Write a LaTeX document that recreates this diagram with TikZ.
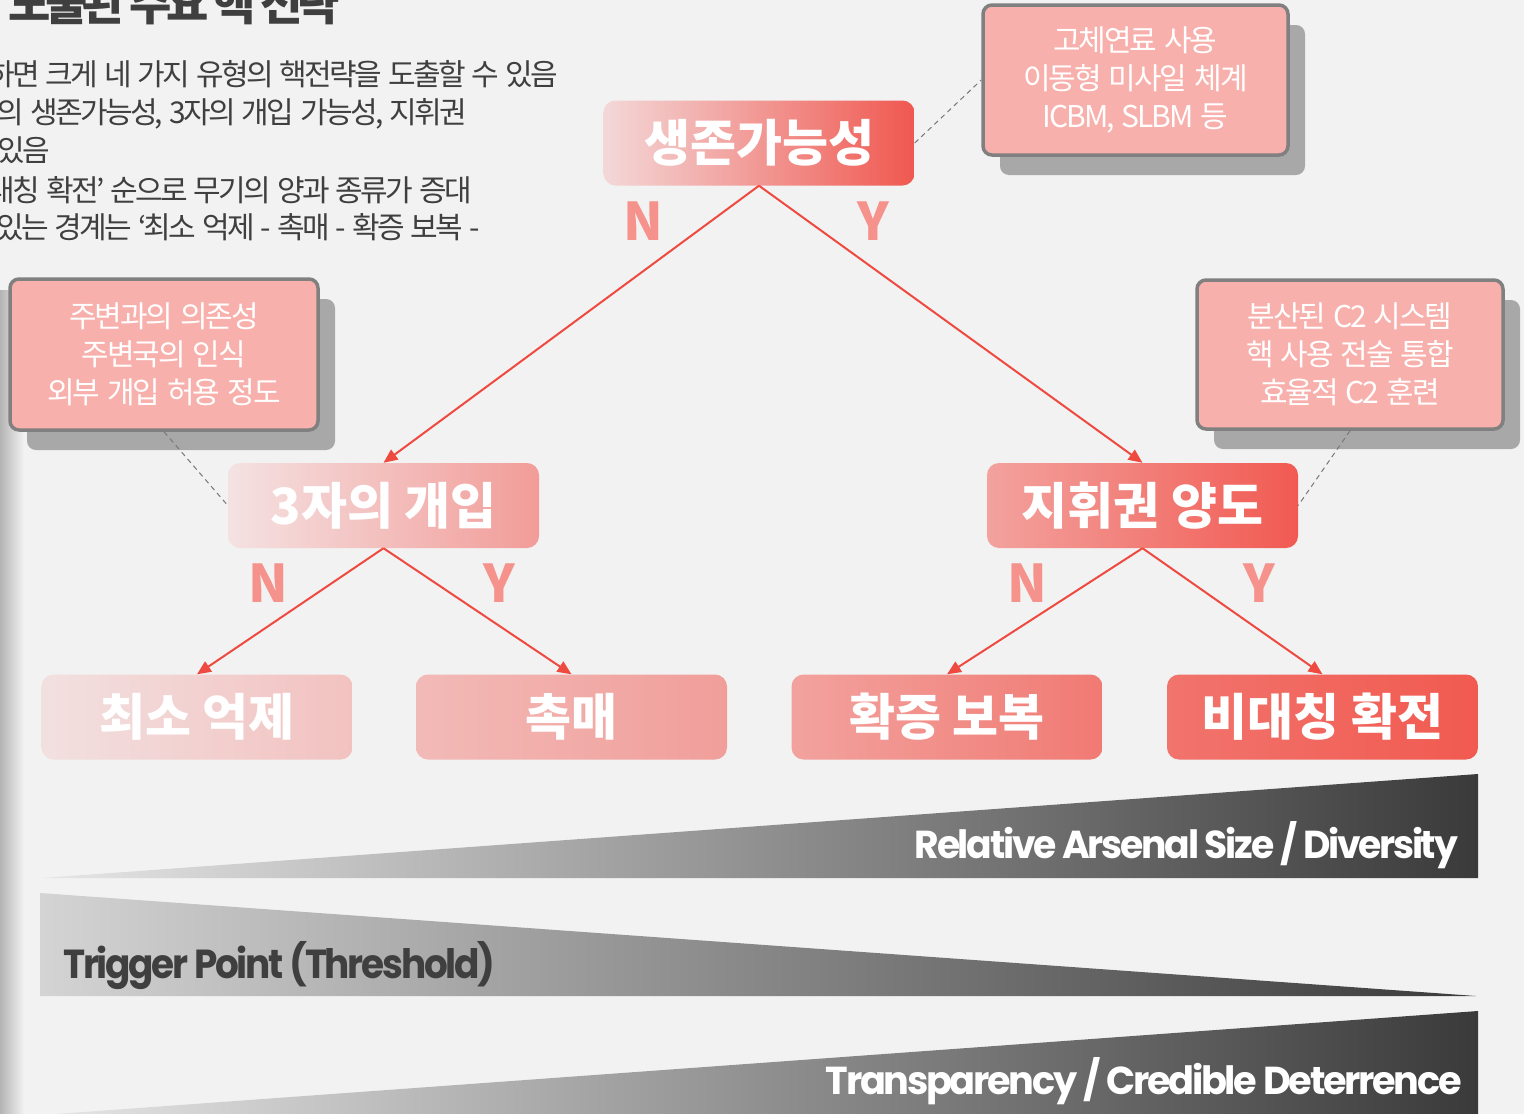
\documentclass[tikz,border=0pt]{standalone}
\usepackage{fontspec}
\usepackage{graphicx}
\usetikzlibrary{arrows.meta,shadows}
\setmainfont{Noto Sans CJK KR}
\newfontfamily\bodyfont[LetterSpace=-9,WordSpace=1.5]{Noto Sans CJK KR}
\newfontfamily\boxfont[LetterSpace=-7,WordSpace=1.5]{Noto Sans CJK KR}
\newfontfamily\titlefont[LetterSpace=-12]{Noto Sans CJK KR}
\newfontfamily\nodefont{Noto Sans CJK KR}
\newfontfamily\enfont[LetterSpace=-6]{Poppins}
\definecolor{bg}{HTML}{F2F2F2}
\definecolor{txt}{HTML}{3F3F3F}
\definecolor{redline}{HTML}{EF4A40}
\definecolor{nycol}{HTML}{F5928C}
\definecolor{infofill}{HTML}{F8B0AC}
\definecolor{infoborder}{HTML}{808080}
\definecolor{shadowgray}{HTML}{A8A8A8}
\definecolor{dashgray}{HTML}{777777}
\definecolor{wedgeL}{HTML}{E6E6E6}
\definecolor{wedgeLb}{HTML}{D4D4D4}
\definecolor{wedgeR}{HTML}{3A3A3A}
\definecolor{stripgray}{HTML}{B4B4B4}
\definecolor{sL}{HTML}{F3D8D8}\definecolor{sR}{HTML}{F05850}
\definecolor{tL}{HTML}{F4E2E2}\definecolor{tR}{HTML}{F29C98}
\definecolor{cL}{HTML}{F3A29E}\definecolor{cR}{HTML}{F15A52}
\definecolor{aL}{HTML}{F2E0E0}\definecolor{aR}{HTML}{F2C2C0}
\definecolor{bL}{HTML}{F2BAB7}\definecolor{bR}{HTML}{F19E9A}
\definecolor{dL}{HTML}{F2A29E}\definecolor{dR}{HTML}{F17A73}
\definecolor{eL}{HTML}{F1746D}\definecolor{eR}{HTML}{F15A50}
\begin{document}
\begin{tikzpicture}[x=1pt,y=-1pt,
  mainbox/.style={shading=axis, rounded corners=12pt, minimum width=311pt, minimum height=85pt, inner sep=0pt, text=white, font=\nodefont\bfseries\fontsize{50}{50}\selectfont},
  infobox/.style={fill=infofill, draw=infoborder, line width=3.5pt, rounded corners=9pt, minimum width=305pt, minimum height=150pt, inner sep=0pt, align=center, text=white, font=\boxfont\fontsize{30}{38}\selectfont, drop shadow={shadow xshift=17pt, shadow yshift=-20pt, fill=shadowgray, opacity=1}},
  arr/.style={draw=redline, line width=2pt, -{Triangle[length=14pt,width=12pt]}},
  ny/.style={text=nycol, font=\nodefont\bfseries\fontsize{52}{52}\selectfont, inner sep=0pt},
  dashln/.style={draw=dashgray, line width=1pt, dash pattern=on 5pt off 4pt},
  bodyline/.style={anchor=base east, inner sep=0pt, text=txt, font=\bodyfont\fontsize{30}{34}\selectfont}
]
\useasboundingbox (0,0) rectangle (1524,1114);
\clip (0,0) rectangle (1524,1114);
\fill[bg] (0,0) rectangle (1524,1114);
\shade[left color=stripgray, right color=bg] (0,290) rectangle (24,1114);

% wedges
\shade[left color=wedgeL, right color=wedgeR] (42,878) -- (1478,774) -- (1478,878) -- cycle;
\shade[left color=wedgeLb, right color=wedgeR] (40,893) -- (40,996) -- (1476,996) -- cycle;
\shade[left color=wedgeL, right color=wedgeR] (42,1115) -- (1478,1011) -- (1478,1115) -- cycle;
\node[anchor=base east, inner sep=0pt, text=white] (w1) at (1458,858) {\resizebox{543pt}{37pt}{\enfont\bfseries Relative Arsenal Size / Diversity}};
\node[anchor=base west, inner sep=0pt, text=txt] (w2) at (63,978) {\resizebox{432pt}{37pt}{\enfont\bfseries Trigger Point (Threshold)}};
\node[anchor=base east, inner sep=0pt, text=white] (w3) at (1462,1094) {\resizebox{636pt}{37pt}{\enfont\bfseries Transparency / Credible Deterrence}};

% title and body
\node[anchor=base east, inner sep=0pt, text=txt, font=\titlefont\bfseries\fontsize{46}{46}\selectfont] (title) at (340,20) {도출된 주요 핵 전략};
\node[bodyline] (b1) at (558,85) {하면 크게 네 가지 유형의 핵전략을 도출할 수 있음};
\node[bodyline] (b2) at (467,123) {의 생존가능성, 3자의 개입 가능성, 지휘권};
\node[bodyline] (b3) at (50,161) {있음};
\node[bodyline] (b4) at (472,201) {대칭 확전’ 순으로 무기의 양과 종류가 증대};
\node[bodyline] (b5) at (480,238) {있는 경계는 ‘최소 억제 - 촉매 - 확증 보복 -};

% info boxes
\node[infobox] (i1) at (1135.5,80) {고체연료 사용\\이동형 미사일 체계\\ICBM, SLBM 등};
\node[infobox, minimum width=308pt, minimum height=151pt] (i2) at (164,354.5) {주변과의 의존성\\주변국의 인식\\외부 개입 허용 정도};
\node[infobox, minimum width=306pt, minimum height=149pt] (i3) at (1350,354.5) {분산된 C2 시스템\\핵 사용 전술 통합\\효율적 C2 훈련};

% main nodes
\node[mainbox, left color=sL, right color=sR] (s) at (759,143) {생존가능성};
\node[mainbox, left color=tL, right color=tR] (t) at (383.5,505.5) {3자의 개입};
\node[mainbox, left color=cL, right color=cR] (c) at (1142.5,505.5) {지휘권 양도};
\node[mainbox, left color=aL, right color=aR] (m1) at (197,717) {최소 억제};
\node[mainbox, left color=bL, right color=bR] (m2) at (571.5,717) {촉매};
\node[mainbox, left color=dL, right color=dR] (m3) at (947,717) {확증 보복};
\node[mainbox, left color=eL, right color=eR] (m4) at (1322.5,717) {비대칭 확전};

% dashed connectors
\draw[dashln] (s.east) -- (i1.west);
\draw[dashln] (i2.south) -- (t.west);
\draw[dashln] (i3.south) -- (c.east);

% arrows
\draw[arr] (s.south) -- (t.north);
\draw[arr] (s.south) -- (c.north);
\draw[arr] (t.south) -- (m1.north);
\draw[arr] (t.south) -- (m2.north);
\draw[arr] (c.south) -- (m3.north);
\draw[arr] (c.south) -- (m4.north);

% N / Y labels
\node[ny] (n1) at (643,221) {N};
\node[ny] (y1) at (873,221) {Y};
\node[ny] (n2) at (268,583) {N};
\node[ny] (y2) at (499,583) {Y};
\node[ny] (n3) at (1027,583) {N};
\node[ny] (y3) at (1259,583) {Y};
\end{tikzpicture}
\end{document}
